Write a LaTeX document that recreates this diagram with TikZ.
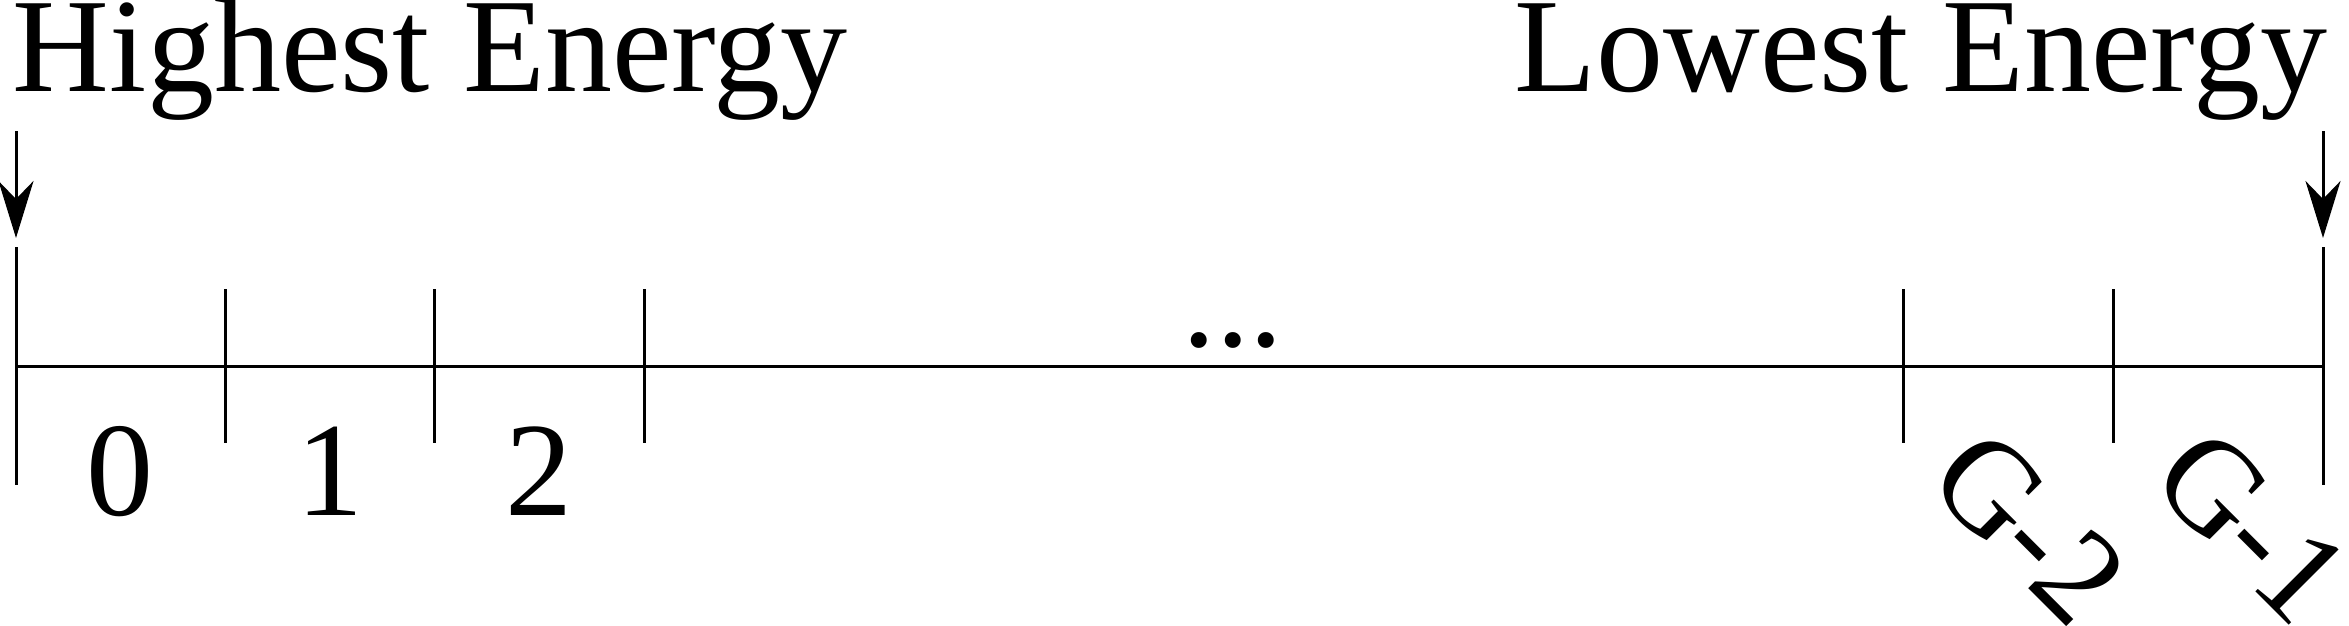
\documentclass[tikz,border=0pt]{standalone}
\usepackage{fontspec}
\setmainfont{Liberation Serif}
\usetikzlibrary{arrows.meta}
\begin{document}
\begin{tikzpicture}[x=0.2pt,y=-0.2pt,
  lbl/.style={inner sep=0pt,font=\fontsize{26.8}{30}\selectfont},
  ln/.style={line width=0.6pt},
  arr/.style={ln,-{Stealth[length=11.4pt,width=7pt,inset=3.6pt]}}]
\useasboundingbox (0,0) rectangle (2349,626);
% titles
\node[lbl,anchor=base west] (hi) at (12,91) {Highest Energy};
\node[lbl,anchor=base east] (lo) at (2328,91) {Lowest Energy};
% arrows
\coordinate (a1s) at (16,131); \coordinate (a1e) at (16,238);
\coordinate (a2s) at (2323,131); \coordinate (a2e) at (2323,238);
\draw[arr] (a1s) -- (a1e);
\draw[arr] (a2s) -- (a2e);
% axis
\coordinate (L) at (16,366); \coordinate (R) at (2323,366);
\draw[ln] (L) -- (R);
% long ticks
\coordinate (t0a) at (16,247); \coordinate (t0b) at (16,485);
\coordinate (t7a) at (2323,247); \coordinate (t7b) at (2323,485);
\draw[ln] (t0a) -- (t0b);
\draw[ln] (t7a) -- (t7b);
% short ticks
\foreach \x [count=\i] in {225,434,644,1903,2113}{
  \coordinate (s\i a) at (\x,289); \coordinate (s\i b) at (\x,443);
  \draw[ln] (s\i a) -- (s\i b);
}
% labels
\node[lbl,anchor=base] (n0) at (120,515) {0};
\node[lbl,anchor=base] (n1) at (330,515) {1};
\node[lbl,anchor=base] (n2) at (539,515) {2};
\node[lbl,anchor=base] (dots) at (1233,346) {...};
\node[lbl,rotate=-45] (g2) at (2029,527) {G-2};
\node[lbl,rotate=-45] (g1) at (2252,526) {G-1};
\end{tikzpicture}
\end{document}
